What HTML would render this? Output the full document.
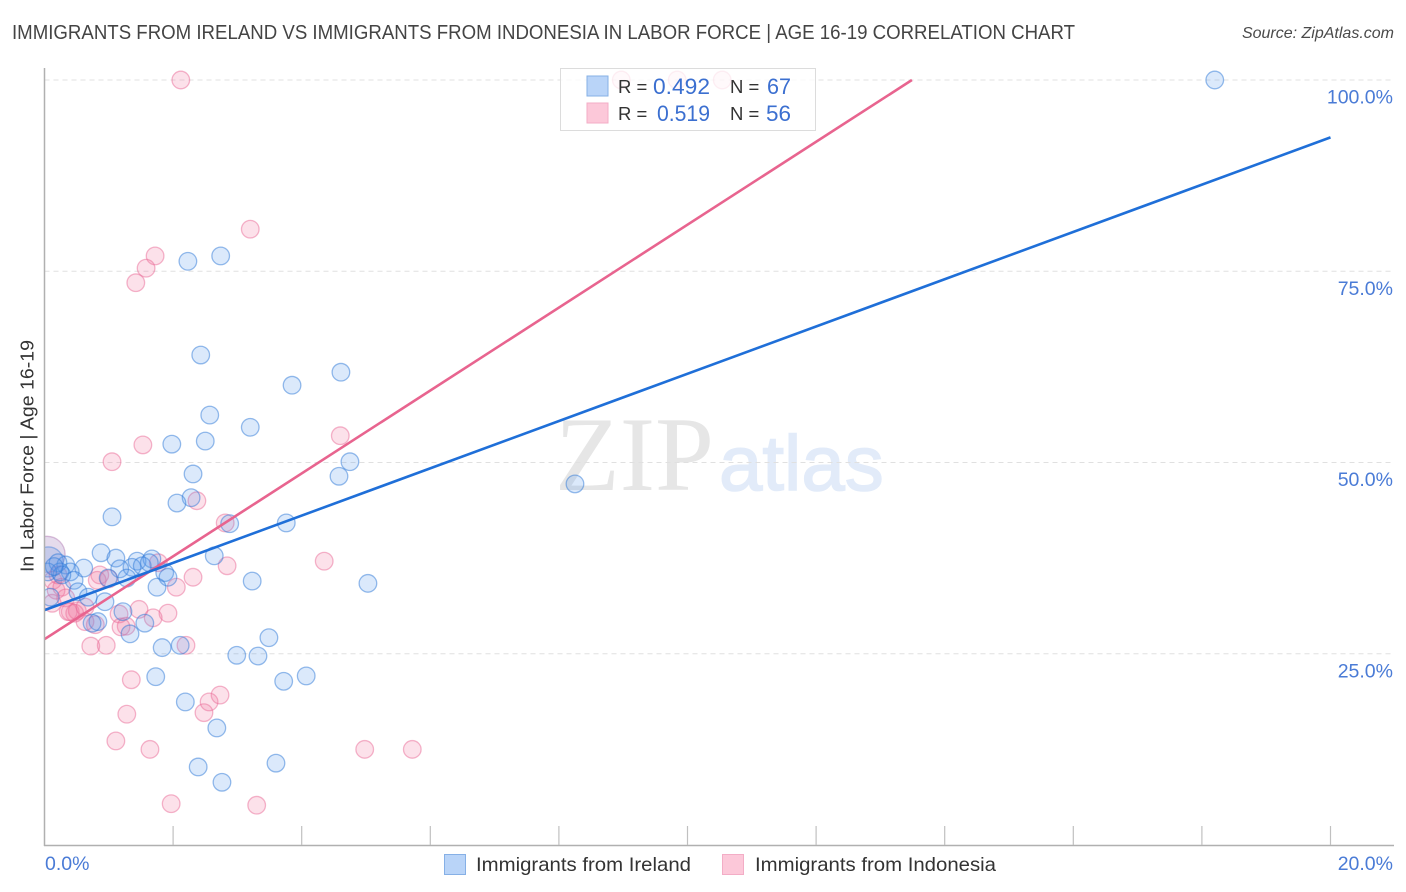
<!DOCTYPE html>
<html lang="en">
<head>
<meta charset="utf-8">
<title>Immigrants from Ireland vs Immigrants from Indonesia in Labor Force | Age 16-19 Correlation Chart</title>
<style>
html,body{margin:0;padding:0;background:#fff;width:1406px;height:892px;overflow:hidden}
svg{display:block;font-family:"Liberation Sans",sans-serif}
</style>
</head>
<body>
<svg id="chart" width="1406" height="892" viewBox="0 0 1406 892" xmlns="http://www.w3.org/2000/svg">
  <defs><clipPath id="plot-clip"><rect x="44.5" y="60" width="1350" height="785"/></clipPath></defs>
  <text x="12" y="39" font-size="20" fill="#444" textLength="1063" lengthAdjust="spacingAndGlyphs">IMMIGRANTS FROM IRELAND VS IMMIGRANTS FROM INDONESIA IN LABOR FORCE | AGE 16-19 CORRELATION CHART</text>
  <text x="1394" y="38" font-size="16" font-style="italic" fill="#4a4a4a" text-anchor="end">Source: ZipAtlas.com</text>
  <g>
    <text x="555" y="490" font-family="'Liberation Serif',serif" font-size="106" fill="#e6e6e6">ZIP</text>
    <text x="719" y="490" font-family="'Liberation Sans',sans-serif" font-size="78" fill="#e2ebf9" stroke="#e2ebf9" stroke-width="1.5">atlas</text>
  </g>
  <g id="grid"></g>
  <g id="points" clip-path="url(#plot-clip)"></g>
  <g id="trends"></g>
  <g id="axes"></g>
  <text transform="translate(33.5,572) rotate(-90)" font-size="18.5" fill="#333" textLength="232" lengthAdjust="spacingAndGlyphs">In Labor Force | Age 16-19</text>

  <g>
    <rect x="560.5" y="68.5" width="255" height="62" fill="#fff" fill-opacity="0.78" stroke="#dcdcdc"/>
    <rect x="587" y="76" width="21" height="20" fill="#b9d4f8" stroke="#86b0e6"/>
    <rect x="587" y="103" width="21" height="20" fill="#fcc8d9" stroke="#f3adc6"/>
    <text x="618" y="93" font-size="18.5" fill="#333">R =</text>
    <text x="653" y="94" font-size="22" fill="#3b6fd0" textLength="57" lengthAdjust="spacingAndGlyphs">0.492</text>
    <text x="730" y="93" font-size="18.5" fill="#333">N =</text>
    <text x="767" y="94" font-size="22" fill="#3b6fd0" textLength="24" lengthAdjust="spacingAndGlyphs">67</text>
    <text x="618" y="120" font-size="18.5" fill="#333">R =</text>
    <text x="657" y="121" font-size="22" fill="#3b6fd0" textLength="53" lengthAdjust="spacingAndGlyphs">0.519</text>
    <text x="730" y="120" font-size="18.5" fill="#333">N =</text>
    <text x="766" y="121" font-size="22" fill="#3b6fd0" textLength="25" lengthAdjust="spacingAndGlyphs">56</text>
  </g>

  <g>
    <rect x="444.5" y="854.5" width="21" height="20" fill="#b9d4f8" stroke="#86b0e6"/>
    <text x="476" y="871" font-size="19.5" fill="#333" textLength="215" lengthAdjust="spacingAndGlyphs">Immigrants from Ireland</text>
    <rect x="722.5" y="854.5" width="21" height="20" fill="#fcc8d9" stroke="#f3adc6"/>
    <text x="755" y="871" font-size="19.5" fill="#333" textLength="241" lengthAdjust="spacingAndGlyphs">Immigrants from Indonesia</text>
  </g>
</svg>
<script>
const irelandX = [18.20,2.74,2.23,2.43,4.61,3.85,2.57,3.20,1.98,2.50,4.75,2.31,4.58,8.25,2.28,2.06,1.05,2.88,3.76,0.88,2.64,1.11,1.44,1.67,1.36,1.17,1.52,1.63,1.87,1.92,1.75,3.23,5.03,1.28,0.99,0.61,0.33,0.21,0.40,0.46,0.52,0.68,0.94,1.22,0.83,0.74,1.56,1.33,1.83,2.11,2.99,3.32,3.49,1.73,4.07,3.72,2.19,2.68,3.60,2.39,2.76,0.09,0.24,0.27,0.05,0.15];
const irelandY = [100,77.0,76.3,64.05,61.8,60.1,56.2,54.6,52.4,52.8,50.1,48.5,48.2,47.2,45.4,44.7,42.9,42.0,42.1,38.2,37.8,37.5,37.1,37.4,36.3,36.1,36.5,36.9,35.6,35.0,33.7,34.5,34.2,34.9,34.9,36.2,36.6,36.9,35.7,34.6,33.1,32.4,31.8,30.5,29.2,29.0,29.0,27.6,25.8,26.1,24.8,24.7,27.1,22.0,22.1,21.4,18.7,15.3,10.7,10.2,8.2,32.4,35.7,35.3,35.7,36.4];
const irelandMajorX = [0.06];
const irelandMajorY = [37.0];
const indonesiaX = [2.12,8.97,9.84,10.54,3.20,1.72,1.58,1.42,4.60,1.53,1.05,2.37,2.81,4.35,2.84,1.77,2.31,2.05,0.86,1.00,0.82,0.13,0.21,0.18,0.27,0.12,0.33,0.40,0.51,0.47,0.37,0.63,0.63,0.79,1.47,1.92,1.69,1.16,1.27,1.19,0.96,0.72,2.20,1.35,1.28,2.48,2.56,2.73,1.11,1.64,4.98,5.72,1.97,3.30];
const indonesiaY = [100,100,100,100,80.5,77.0,75.4,73.5,53.5,52.3,50.1,45.0,42.1,37.1,36.5,36.9,35.0,33.7,35.3,34.8,34.6,34.6,35.3,33.3,33.7,31.6,32.3,30.5,30.6,30.3,30.5,31.1,29.2,28.8,30.8,30.3,29.7,30.2,28.6,28.5,26.1,26.0,26.1,21.6,17.1,17.3,18.7,19.6,13.6,12.5,12.5,12.5,5.4,5.2];
const indonesiaMajorX = [0.04];
const indonesiaMajorY = [38.0];
const irelandTrendX = [0,20];
const irelandTrendY = [30.7,92.5];
const indonesiaTrendX = [0,13.49];
const indonesiaTrendY = [26.9,100];
const yTickValues = [25,50,75,100];
const yTickLabels = ["25.0%","50.0%","75.0%","100.0%"];
const xTickValues = [0,2,4,6,8,10,12,14,16,18,20];
const xEndValues = [0,20];
const xEndLabels = ["0.0%","20.0%"];

const NS = 'http://www.w3.org/2000/svg';
const xScale = v => 44.5 + v * 64.3;
const yScale = v => 845 - v * 7.65;
const make = (parent, tag, attrs, text) => {
  const el = document.createElementNS(NS, tag);
  for (const k in attrs) el.setAttribute(k, attrs[k]);
  if (text !== undefined) el.textContent = text;
  parent.appendChild(el);
  return el;
};
const grid = document.getElementById('grid');
const axes = document.getElementById('axes');
const pts = document.getElementById('points');
const trends = document.getElementById('trends');

yTickValues.forEach((v, i) => {
  const line = make(grid, 'line', {x1: 44.5, x2: 1394, y1: yScale(v), y2: yScale(v), stroke: '#e0e0e0', 'stroke-width': 1, 'stroke-dasharray': '5 4'});
  
  
  const label = make(axes, 'text', {x: 1393, y: yScale(v) + 23.5, 'text-anchor': 'end', 'font-size': 19.5, fill: '#4a7bd6'}, yTickLabels[i]);
  
  
});

const yAxis = make(axes, 'line', {x1: 44.5, x2: 44.5, y1: 68, y2: 846, stroke: '#b0b0b0', 'stroke-width': 1.5});


const xAxis = make(axes, 'line', {x1: 44, x2: 1394, y1: 845.5, y2: 845.5, stroke: '#b0b0b0', 'stroke-width': 1.5});



xTickValues.slice(1).forEach(v => {
  const tick = make(axes, 'line', {x1: xScale(v), x2: xScale(v), y1: 826, y2: 845, stroke: '#c0c0c0', 'stroke-width': 1.2});
  
  
});
xEndValues.forEach((v, i) => {
  const anchorStart = i === 0;
  const label = make(axes, 'text', {x: anchorStart ? xScale(v) + 0.5 : 1393, y: 870, 'text-anchor': anchorStart ? 'start' : 'end', 'font-size': 19.5, fill: '#4a7bd6'}, xEndLabels[i]);
  
  
});

function drawSeries(xs, ys, radius, fill, stroke, name) {
  xs.forEach((x, i) => {
    const c = make(pts, 'circle', {cx: xScale(x), cy: yScale(ys[i]), r: radius, fill: fill, 'fill-opacity': 0.22, stroke: stroke, 'stroke-opacity': 0.5, 'stroke-width': 1.3});
    
    
  });
}
drawSeries(indonesiaMajorX, indonesiaMajorY, 18, '#8a5ca8', '#b37fb5', 'indonesia-major');
drawSeries(indonesiaX, indonesiaY, 8.8, '#f2769f', '#ea6c98', 'indonesia');
drawSeries(irelandMajorX, irelandMajorY, 15, '#5c8fe0', '#4a86dc', 'ireland-major');
drawSeries(irelandX, irelandY, 8.8, '#5a9bec', '#2f7ad8', 'ireland');

function drawTrend(xs, ys, color, name) {
  const l = make(trends, 'line', {x1: xScale(xs[0]), y1: yScale(ys[0]), x2: xScale(xs[1]), y2: yScale(ys[1]), stroke: color, 'stroke-width': 2.6});
  
  
}
drawTrend(indonesiaTrendX, indonesiaTrendY, '#e8648f', 'indonesia-trend-line');
drawTrend(irelandTrendX, irelandTrendY, '#1f6fd8', 'ireland-trend-line');
</script>
</body>
</html>
